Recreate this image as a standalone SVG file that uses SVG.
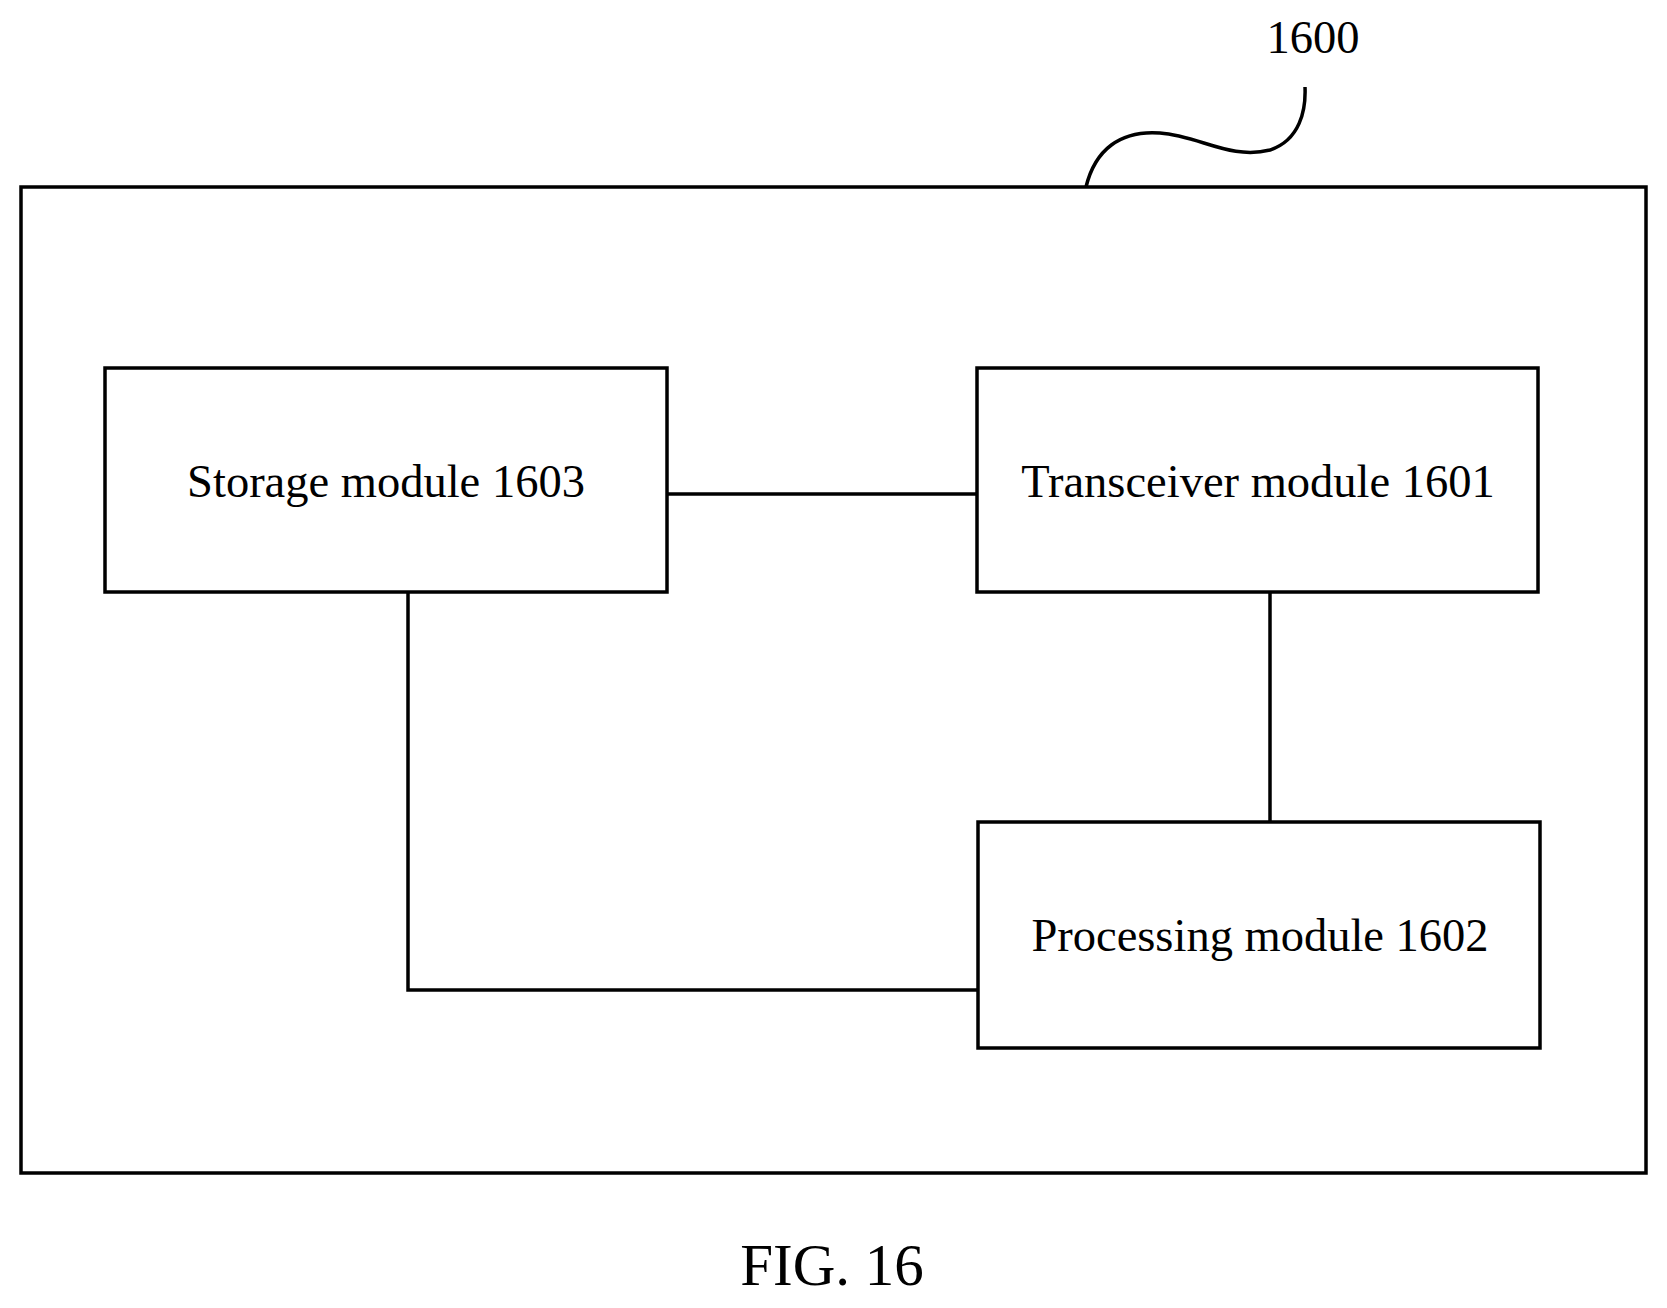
<svg xmlns="http://www.w3.org/2000/svg" width="1667" height="1308" viewBox="0 0 1667 1308">
<style>
.b{fill:none;stroke:#000;stroke-width:3.5}
.t{font-family:"Liberation Serif",serif;font-size:46.5px;text-anchor:middle;fill:#000}
</style>
<rect width="1667" height="1308" fill="#fff"/>
<g id="device"><rect class="b" x="21" y="187" width="1625" height="986"/>
<path class="b" d="M1086,187 C1095,150 1120,130 1160,133 C1200,136 1230,160 1270,150 C1300,140 1306,110 1305,87"/>
<text class="t" x="1313" y="53">1600</text></g>
<g id="storage"><rect class="b" x="105" y="368" width="562" height="224"/><text class="t" x="386" y="497">Storage module 1603</text></g>
<g id="transceiver"><rect class="b" x="977" y="368" width="561" height="224"/><text class="t" x="1258" y="497">Transceiver module 1601</text></g>
<g id="processing"><rect class="b" x="978" y="822" width="562" height="226"/><text class="t" x="1260" y="951">Processing module 1602</text></g>
<g id="connectors">
<path class="b" d="M667,494 H977"/>
<path class="b" d="M408,592 V990 H978"/>
<path class="b" d="M1270,592 V822"/>
</g>
<text class="t" x="832" y="1285" style="font-size:59px">FIG. 16</text>
</svg>
